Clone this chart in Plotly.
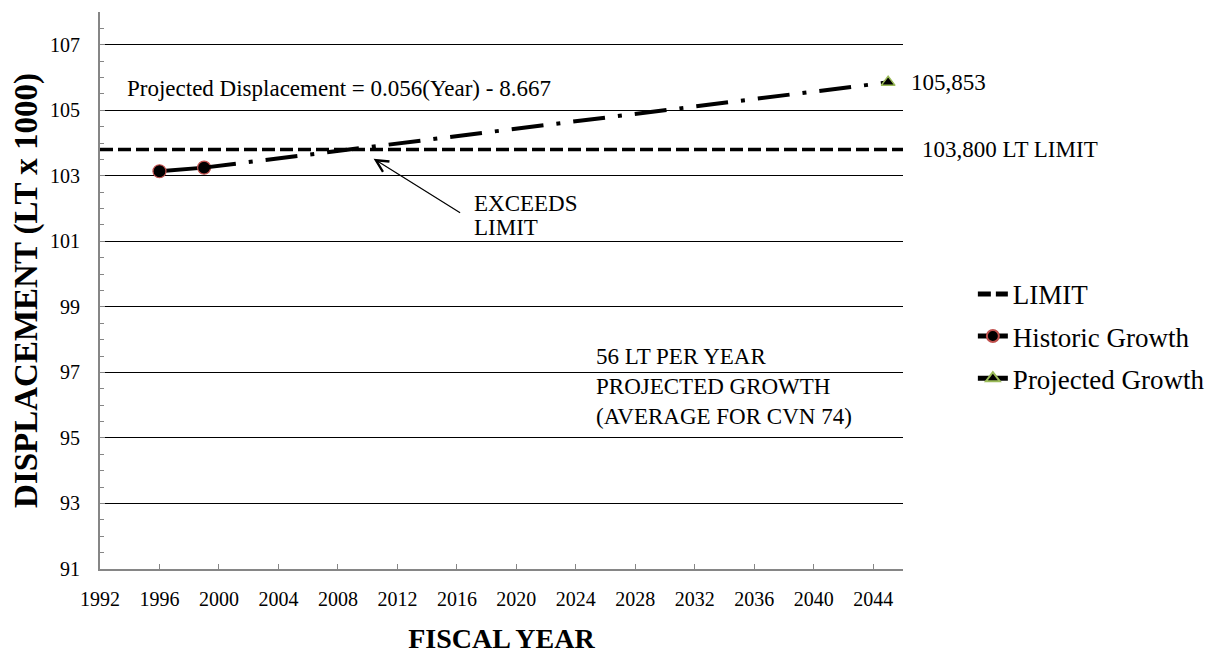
import plotly.graph_objects as go

# ---- data ----
limit_years = [1992, 2046]
limit_values = [103.8, 103.8]

historic_years = [1996, 1999]
historic_values = [103.14, 103.25]

projected_years = [1999, 2045]
projected_values = [103.25, 105.853]

end_year = [2045]
end_value = [105.853]

FONT = "Liberation Serif"
AXIS_GREY = "#868686"

fig = go.Figure()

# LIMIT line
fig.add_trace(go.Scatter(
    x=limit_years, y=limit_values, mode="lines", name="LIMIT",
    line=dict(color="black", width=3.5, dash="13px,5px"),
    legendgroup="a", hoverinfo="skip"))

# Historic growth
fig.add_trace(go.Scatter(
    x=historic_years, y=historic_values, mode="lines+markers", name="Historic Growth",
    line=dict(color="black", width=4),
    marker=dict(symbol="circle", size=13, color="black",
                line=dict(color="#C0504D", width=1.2)),
    legendgroup="b"))

# Projected growth (line)
fig.add_trace(go.Scatter(
    x=projected_years, y=projected_values, mode="lines", name="Projected Growth",
    line=dict(color="black", width=4, dash="32px,13px,4px,13px"),
    legendgroup="c", showlegend=False))

# Projected growth end marker
fig.add_trace(go.Scatter(
    x=end_year, y=end_value, mode="markers", name="Projected Growth",
    marker=dict(symbol="triangle-up", size=12, color="black",
                line=dict(color="#9BBB59", width=1.5)),
    legendgroup="c", showlegend=False))

# Legend entry for projected growth
fig.add_trace(go.Scatter(
    x=[None], y=[None], mode="lines+markers", name="Projected Growth",
    line=dict(color="black", width=4),
    marker=dict(symbol="triangle-up", size=12, color="black",
                line=dict(color="#9BBB59", width=1.5)),
    legendgroup="c", showlegend=True))

ann_font = dict(family=FONT, size=23, color="black")
annotations = [
    dict(x=1993.68, y=105.68, xref="x", yref="y", xanchor="left", yanchor="middle",
         text="Projected Displacement = 0.056(Year) - 8.667", showarrow=False, font=ann_font),
    dict(x=end_year[0], y=end_value[0], xref="x", yref="y", xanchor="left", yanchor="middle",
         xshift=21, text="105,853", showarrow=False, font=ann_font),
    dict(x=limit_years[-1], y=limit_values[-1], xref="x", yref="y", xanchor="left", yanchor="middle",
         xshift=17, text="103,800 LT LIMIT", showarrow=False, font=ann_font),
    dict(x=2010.4, y=103.52, xref="x", yref="y", ax=88, ay=55, axref="pixel", ayref="pixel",
         text="", showarrow=True, arrowhead=5, arrowsize=2, arrowwidth=1.2, arrowcolor="black",
         standoff=0),
    dict(x=2017.0, y=102.17, xref="x", yref="y", xanchor="left", yanchor="middle",
         text="EXCEEDS", showarrow=False, font=ann_font),
    dict(x=2017.0, y=101.43, xref="x", yref="y", xanchor="left", yanchor="middle",
         text="LIMIT", showarrow=False, font=ann_font),
    dict(x=2025.2, y=96.58, xref="x", yref="y", xanchor="left", yanchor="middle", align="left",
         text="56 LT PER YEAR<br>PROJECTED GROWTH<br>(AVERAGE FOR CVN 74)",
         showarrow=False, font=ann_font),
]

fig.update_layout(
    width=1219, height=646,
    margin=dict(l=92, r=324, t=4, b=85),
    paper_bgcolor="white", plot_bgcolor="white",
    font=dict(family=FONT, color="black"),
    showlegend=True,
    legend=dict(x=1.087, y=0.537, xanchor="left", yanchor="top",
                font=dict(family=FONT, size=27, color="black"),
                traceorder="grouped", tracegroupgap=4,
                bgcolor="rgba(0,0,0,0)", itemsizing="constant"),
    annotations=annotations,
    xaxis=dict(
        range=[1992, 2046], tick0=1992, dtick=4, showgrid=False, zeroline=False,
        showline=True, linecolor=AXIS_GREY, linewidth=2, automargin=False,
        ticks="inside", ticklen=5, tickcolor=AXIS_GREY, tickwidth=1,
        tickfont=dict(family=FONT, size=20, color="black"), ticklabelstandoff=11,
        title=dict(text="FISCAL YEAR", standoff=33,
                   font=dict(family=FONT, size=28, color="black", weight="bold")),
    ),
    yaxis=dict(
        range=[91, 108], tick0=91, dtick=2, showgrid=True, gridcolor="black", gridwidth=1,
        zeroline=False, showline=True, linecolor=AXIS_GREY, linewidth=2, automargin=False,
        ticks="inside", ticklen=5, tickcolor=AXIS_GREY, tickwidth=1,
        minor=dict(dtick=0.5, ticks="inside", ticklen=4, tickcolor=AXIS_GREY, showgrid=False),
        tickfont=dict(family=FONT, size=20, color="black"), ticklabelstandoff=14,
        title=dict(text="DISPLACEMENT (LT x 1000)", standoff=16,
                   font=dict(family=FONT, size=33, color="black", weight="bold")),
    ),
)

fig.write_html("out.html")
